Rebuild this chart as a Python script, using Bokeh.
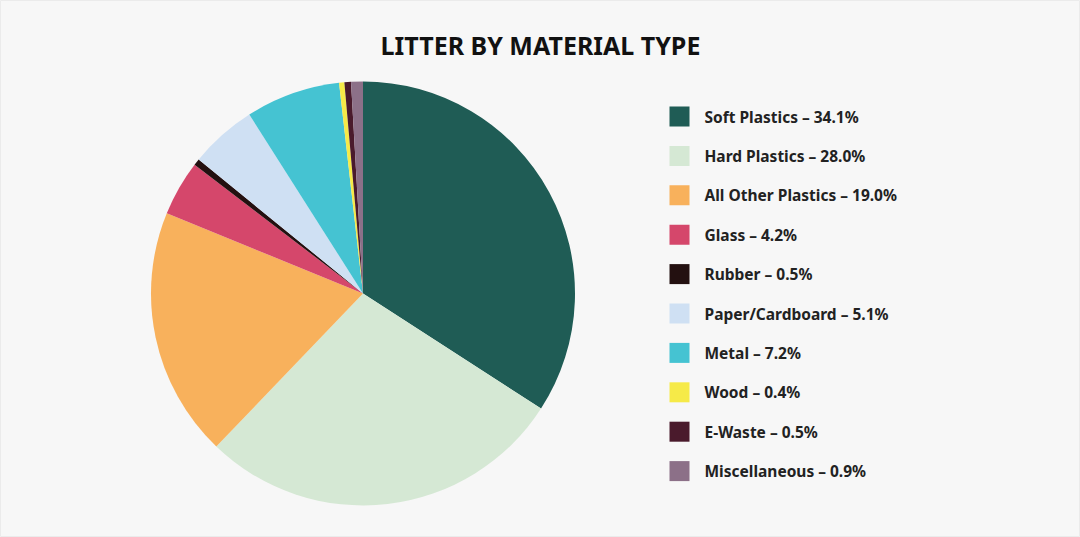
import math
from bokeh.plotting import figure
from bokeh.models import Range1d, ColumnDataSource
from bokeh.core.properties import value
from bokeh.embed import file_html
from bokeh.resources import INLINE

categories = ["Soft Plastics", "Hard Plastics", "All Other Plastics", "Glass", "Rubber",
              "Paper/Cardboard", "Metal", "Wood", "E-Waste", "Miscellaneous"]
percentages = [34.1, 28.0, 19.0, 4.2, 0.5, 5.1, 7.2, 0.4, 0.5, 0.9]
colors = ["#1f5c55", "#d5e8d4", "#f8b15c", "#d5476b", "#231010",
          "#cfe0f3", "#45c3d2", "#f6ea48", "#4a1a2c", "#8c7088"]
title_text = "LITTER BY MATERIAL TYPE"

W, H = 1080, 537
p = figure(width=W, height=H, output_backend="svg", toolbar_location=None,
           x_range=Range1d(0, W), y_range=Range1d(0, H), min_border=0)
p.axis.visible = False
p.grid.visible = False
p.background_fill_color = "#f7f7f7"
p.border_fill_color = "#f7f7f7"
p.outline_line_color = "#ebebeb"

total = sum(percentages)
starts, ends = [], []
cum = 0.0
for v in percentages:
    starts.append(math.pi / 2 - 2 * math.pi * cum / total)
    cum += v
    ends.append(math.pi / 2 - 2 * math.pi * cum / total)

cx, cy, r = 362.5, H - 293, 212
src = ColumnDataSource(dict(start=starts, end=ends, color=colors))
p.wedge(x=cx, y=cy, radius=r, start_angle="start", end_angle="end", direction="clock",
        fill_color="color", line_color=None, source=src)

p.text(x=[540], y=[H - 44], text=[title_text], text_align="center", text_baseline="middle",
       text_font=value("Noto Sans"), text_font_size="25px", text_color="#111111",
       text_font_style="bold")

row0, step = 116, 39.4
ly = [H - (row0 + i * step) for i in range(len(categories))]
labels = [f"{c} \u2013 {v:.1f}%" for c, v in zip(categories, percentages)]
lsrc = ColumnDataSource(dict(y=ly, color=colors, label=labels))
p.rect(x=679, y="y", width=20, height=20, fill_color="color", line_color=None, source=lsrc)
p.text(x=704, y="y", text="label", text_baseline="middle", text_font=value("Noto Sans"),
       text_font_size="15.5px", text_font_style="bold", text_color="#222222", source=lsrc)

open("out.html", "w").write(file_html(p, INLINE))
